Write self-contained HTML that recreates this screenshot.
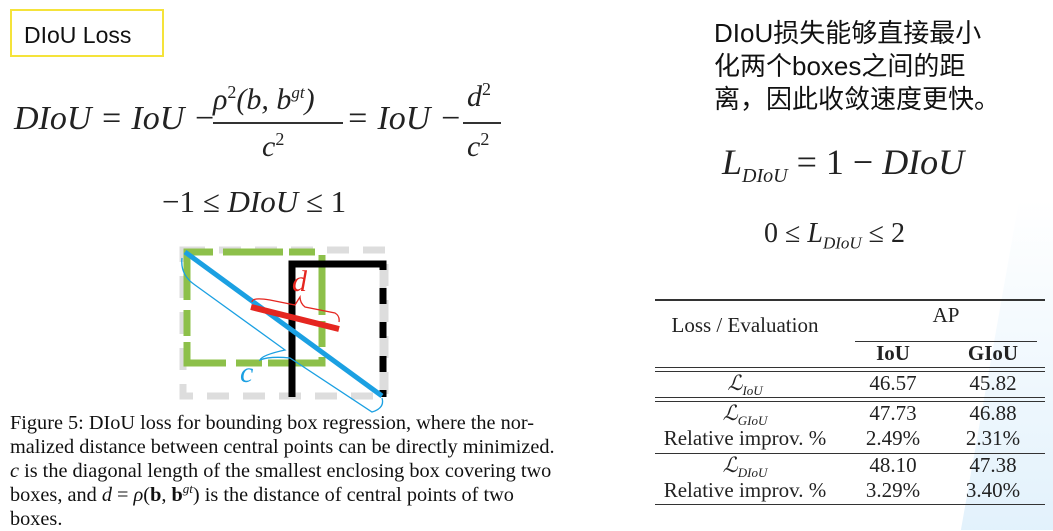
<!DOCTYPE html>
<html><head><meta charset="utf-8"><style>
body{margin:0;width:1053px;height:526px;background:#fff;position:relative;overflow:hidden;font-family:"Liberation Serif",serif;color:#222}
.a{position:absolute;white-space:nowrap}
.i{font-style:italic}
.cn{font-family:"Liberation Sans","Noto Sans CJK SC",sans-serif}
.ln{position:absolute;background:#333;height:1.5px}
.t{position:absolute;font-size:21px;text-align:center;white-space:nowrap}
sup,sub{line-height:0}
</style></head><body>
<div class="a" style="left:990px;top:200px;width:120px;height:330px;background:linear-gradient(#fff,#dbeefb);transform:skewX(-10deg);opacity:.8"></div>
<div class="a cn" style="left:10px;top:9px;width:154px;height:48px;border:2px solid #f5e33a;font-size:23px;line-height:48px;padding-left:12px;box-sizing:border-box;color:#111">DIoU Loss</div>

<div>
<div class="a i" style="left:14px;top:100px;font-size:34px">DIoU = IoU −</div>
<div class="a i" style="left:213px;top:83px;font-size:30px">ρ<sup style="font-size:18px;font-style:normal">2</sup>(b, b<sup style="font-size:17px">gt</sup>)</div>
<div class="ln" style="left:213px;top:122px;width:130px;height:2px"></div>
<div class="a i" style="left:262px;top:130px;font-size:30px">c<sup style="font-size:18px;font-style:normal">2</sup></div>
<div class="a i" style="left:346px;top:100px;font-size:34px">= IoU −</div>
<div class="a i" style="left:467px;top:80px;font-size:30px">d<sup style="font-size:18px;font-style:normal">2</sup></div>
<div class="ln" style="left:463px;top:122px;width:38px;height:2px"></div>
<div class="a i" style="left:467px;top:130px;font-size:30px">c<sup style="font-size:18px;font-style:normal">2</sup></div>
</div>
<div class="a" style="left:162px;top:184px;font-size:31px">−1 ≤ <span class="i">DIoU</span> ≤ 1</div>

<svg class="a" style="left:0;top:0" width="1053" height="526">
<rect x="183" y="250" width="202" height="146" fill="none" stroke="#ddd" stroke-width="7" stroke-dasharray="22,14"/>
<rect x="187" y="252" width="135" height="111" fill="none" stroke="#8dc04a" stroke-width="7" stroke-dasharray="26,10,60,6"/>
<path d="M292 397 V264 H383 V397" fill="none" stroke="#000" stroke-width="7"/>
<path d="M383 270 V397" fill="none" stroke="#ddd" stroke-width="7" stroke-dasharray="18,16"/>
<line x1="185" y1="252" x2="382" y2="396" stroke="#1ba0e2" stroke-width="5"/>
<path d="M182 258 Q180 275 195 285 L285 350 Q262 355 260 360 Q270 356 290 358 L372 412 Q385 408 382 398" fill="none" stroke="#1ba0e2" stroke-width="1.3"/>
<line x1="251" y1="307" x2="339" y2="329" stroke="#e52620" stroke-width="6"/>
<path d="M252 302 Q252 297 270 300 L295 305 Q298 300 300 297 Q300 303 305 307 L335 313 Q340 316 339 322" fill="none" stroke="#e52620" stroke-width="1.3"/>
<text x="292" y="291" font-family="Liberation Serif" font-style="italic" font-size="30" fill="#e52620">d</text>
<text x="240" y="382" font-family="Liberation Serif" font-style="italic" font-size="30" fill="#1ba0e2">c</text>
</svg>

<div class="a" style="left:10px;top:411px;font-size:20.3px;line-height:24px;color:#111">
Figure 5: DIoU loss for bounding box regression, where the nor-<br>
malized distance between central points can be directly minimized.<br>
<i>c</i> is the diagonal length of the smallest enclosing box covering two<br>
boxes, and <i>d</i> = <i>ρ</i>(<b>b</b>, <b>b</b><sup style="font-size:13px"><i>gt</i></sup>) is the distance of central points of two<br>
boxes.</div>

<div class="a cn" style="left:714px;top:17px;font-size:26px;line-height:33px;color:#111">DIoU损失能够直接最小<br>化两个boxes之间的距<br>离，因此收敛速度更快。</div>

<div class="a" style="left:722px;top:141px;font-size:36px"><span class="i">L<sub style="font-size:20px">DIoU</sub></span> = 1 − <span class="i">DIoU</span></div>
<div class="a" style="left:764px;top:218px;font-size:28px">0 ≤ <span class="i">L<sub style="font-size:17px">DIoU</sub></span> ≤ 2</div>

<div>
<div class="ln" style="left:655px;top:299px;width:390px"></div>
<div class="t" style="left:655px;top:313px;width:180px">Loss / Evaluation</div>
<div class="t" style="left:855px;top:303px;width:182px">AP</div>
<div class="ln" style="left:855px;top:341px;width:182px;height:1px"></div>
<div class="t" style="left:845px;top:341px;width:96px;font-weight:bold">IoU</div>
<div class="t" style="left:945px;top:341px;width:96px;font-weight:bold">GIoU</div>
<div class="ln" style="left:655px;top:367px;width:390px;height:1px"></div>
<div class="ln" style="left:655px;top:371px;width:390px;height:1px"></div>
<div class="t i" style="left:655px;top:371px;width:180px">ℒ<sub style="font-size:13px">IoU</sub></div>
<div class="t" style="left:845px;top:371px;width:96px">46.57</div>
<div class="t" style="left:945px;top:371px;width:96px">45.82</div>
<div class="ln" style="left:655px;top:397px;width:390px;height:1px"></div>
<div class="ln" style="left:655px;top:401px;width:390px;height:1px"></div>
<div class="t i" style="left:655px;top:401px;width:180px">ℒ<sub style="font-size:13px">GIoU</sub></div>
<div class="t" style="left:845px;top:401px;width:96px">47.73</div>
<div class="t" style="left:945px;top:401px;width:96px">46.88</div>
<div class="t" style="left:655px;top:426px;width:180px">Relative improv. %</div>
<div class="t" style="left:845px;top:426px;width:96px">2.49%</div>
<div class="t" style="left:945px;top:426px;width:96px">2.31%</div>
<div class="ln" style="left:655px;top:453px;width:390px;height:1px"></div>
<div class="t i" style="left:655px;top:453px;width:180px">ℒ<sub style="font-size:13px">DIoU</sub></div>
<div class="t" style="left:845px;top:453px;width:96px">48.10</div>
<div class="t" style="left:945px;top:453px;width:96px">47.38</div>
<div class="t" style="left:655px;top:478px;width:180px">Relative improv. %</div>
<div class="t" style="left:845px;top:478px;width:96px">3.29%</div>
<div class="t" style="left:945px;top:478px;width:96px">3.40%</div>
<div class="ln" style="left:655px;top:504px;width:390px;height:1px"></div>
</div>
</body></html>
